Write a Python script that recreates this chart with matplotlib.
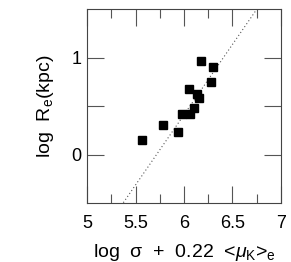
import matplotlib
matplotlib.use("Agg")
import matplotlib.pyplot as plt
import numpy as np

plt.rcParams['font.family'] = ['Liberation Sans', 'DejaVu Sans']
plt.rcParams['mathtext.fontset'] = 'custom'
plt.rcParams['mathtext.rm'] = 'Liberation Sans'
plt.rcParams['mathtext.it'] = 'Liberation Sans:italic'
plt.rcParams['mathtext.sf'] = 'Liberation Sans'

# data
x_vals = [5.57, 5.787, 5.935, 5.976, 6.058, 6.048, 6.106, 6.137, 6.151, 6.175, 6.275, 6.302]
y_vals = [0.15, 0.30, 0.236, 0.414, 0.414, 0.671, 0.476, 0.62, 0.586, 0.959, 0.746, 0.907]
fit_slope = 1.45
fit_intercept = -8.29
x_ticks = [5, 5.5, 6, 6.5, 7]
x_tick_labels = ['5', '5.5', '6', '6.5', '7']
y_ticks = [0, 0.5, 1]
y_tick_labels = ['0', '', '1']

fig = plt.figure(figsize=(2.91, 2.62), dpi=100)
ax = fig.add_axes([0.299, 0.2252, 0.6666, 0.7404])

ax.set_xlim(5, 7)
ax.set_ylim(-0.5, 1.5)

xs = np.array([5, 7])
ax.plot(xs, fit_slope * xs + fit_intercept, linestyle=(0, (1, 2.2)), color='#555555', lw=0.8)
ax.plot(x_vals, y_vals, 's', color='black', markersize=5.4)

ax.set_xticks(x_ticks)
ax.set_xticklabels(x_tick_labels)
ax.set_xticks(np.arange(5, 7.01, 0.25), minor=True)
ax.set_yticks(y_ticks)
ax.set_yticklabels(y_tick_labels)

ax.tick_params(which='both', direction='in', top=True, right=True, color='#555555', width=0.8)
ax.tick_params(which='major', length=12.5, labelsize=13)
ax.tick_params(which='minor', length=6.5)
ax.tick_params(axis='x', which='major', pad=9)
ax.tick_params(axis='y', which='major', pad=4)
for s in ax.spines.values():
    s.set_color('#444444')
    s.set_linewidth(0.8)

ax.set_xlabel(r'log  σ  +  0.22  <$\mu_{\rm K}$>$_{\rm e}$', fontsize=14, labelpad=7)
ax.set_ylabel(r'log  R$_{\rm e}$(kpc)', fontsize=14, labelpad=11)

fig.savefig('out.png', dpi=100)
